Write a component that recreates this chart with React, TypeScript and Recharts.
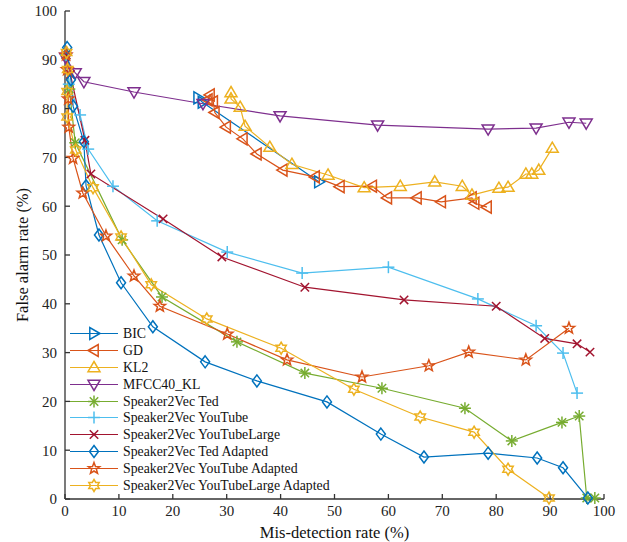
import { LineChart, Line, XAxis, YAxis } from "recharts"

type Pt = { x: number; y: number }

// values (mis-detection %, false alarm %)
const bic: Pt[] = [
  { x: 24.7, y: 82.2 },
  { x: 25.5, y: 81.3 },
  { x: 47.1, y: 65.0 },
]
const gd: Pt[] = [
  { x: 26.5, y: 81.8 },
  { x: 26.9, y: 82.8 },
  { x: 27.5, y: 81.4 },
  { x: 27.8, y: 79.2 },
  { x: 29.9, y: 76.2 },
  { x: 33.0, y: 73.8 },
  { x: 35.6, y: 70.7 },
  { x: 40.4, y: 67.4 },
  { x: 46.4, y: 66.0 },
  { x: 51.0, y: 64.0 },
  { x: 57.0, y: 64.1 },
  { x: 59.8, y: 61.7 },
  { x: 65.3, y: 61.7 },
  { x: 69.8, y: 60.9 },
  { x: 75.5, y: 61.7 },
  { x: 76.0, y: 60.6 },
  { x: 78.3, y: 59.8 },
]
const kl2: Pt[] = [
  { x: 30.8, y: 83.3 },
  { x: 30.8, y: 82.0 },
  { x: 32.5, y: 80.3 },
  { x: 33.4, y: 76.4 },
  { x: 38.0, y: 72.1 },
  { x: 42.1, y: 68.6 },
  { x: 48.8, y: 66.4 },
  { x: 55.5, y: 63.8 },
  { x: 62.2, y: 64.1 },
  { x: 68.6, y: 65.0 },
  { x: 73.7, y: 64.1 },
  { x: 75.5, y: 62.3 },
  { x: 80.5, y: 63.7 },
  { x: 82.2, y: 63.9 },
  { x: 85.5, y: 66.6 },
  { x: 86.6, y: 66.6 },
  { x: 87.9, y: 67.4 },
  { x: 90.4, y: 71.9 },
]
const mfcc40: Pt[] = [
  { x: 0.1, y: 90.5 },
  { x: 1.9, y: 87.3 },
  { x: 3.5, y: 85.5 },
  { x: 12.8, y: 83.4 },
  { x: 25.6, y: 81.0 },
  { x: 39.9, y: 78.5 },
  { x: 58.0, y: 76.6 },
  { x: 78.5, y: 75.8 },
  { x: 87.4, y: 76.0 },
  { x: 93.5, y: 77.2 },
  { x: 96.7, y: 77.0 },
]
const s2vTed: Pt[] = [
  { x: 0.2, y: 91.0 },
  { x: 0.8, y: 84.0 },
  { x: 1.9, y: 73.0 },
  { x: 10.6, y: 53.1 },
  { x: 18.0, y: 41.4 },
  { x: 31.9, y: 32.2 },
  { x: 44.5, y: 25.8 },
  { x: 58.8, y: 22.7 },
  { x: 74.2, y: 18.6 },
  { x: 82.9, y: 11.9 },
  { x: 92.2, y: 15.7 },
  { x: 95.4, y: 17.0 },
  { x: 96.8, y: 0.2 },
  { x: 98.3, y: 0.2 },
]
const s2vYouTube: Pt[] = [
  { x: 0.2, y: 91.0 },
  { x: 0.7, y: 85.0 },
  { x: 2.8, y: 78.7 },
  { x: 4.3, y: 71.7 },
  { x: 8.9, y: 64.1 },
  { x: 17.1, y: 57.0 },
  { x: 30.1, y: 50.6 },
  { x: 44.0, y: 46.3 },
  { x: 60.0, y: 47.5 },
  { x: 76.6, y: 41.0 },
  { x: 87.4, y: 35.5 },
  { x: 92.4, y: 29.9 },
  { x: 95.0, y: 21.7 },
]
const s2vYouTubeLarge: Pt[] = [
  { x: 0.2, y: 91.0 },
  { x: 1.0, y: 87.0 },
  { x: 3.7, y: 73.5 },
  { x: 4.8, y: 66.6 },
  { x: 18.2, y: 57.4 },
  { x: 29.1, y: 49.6 },
  { x: 44.5, y: 43.4 },
  { x: 62.9, y: 40.8 },
  { x: 80.0, y: 39.5 },
  { x: 89.0, y: 32.9 },
  { x: 95.0, y: 31.8 },
  { x: 97.4, y: 30.1 },
]
const tedAdapted: Pt[] = [
  { x: 0.4, y: 92.5 },
  { x: 1.1, y: 85.9 },
  { x: 1.5, y: 80.5 },
  { x: 3.5, y: 73.2 },
  { x: 3.9, y: 64.2 },
  { x: 6.3, y: 54.1 },
  { x: 10.4, y: 44.3 },
  { x: 16.3, y: 35.3 },
  { x: 26.0, y: 28.1 },
  { x: 35.6, y: 24.2 },
  { x: 48.6, y: 19.9 },
  { x: 58.6, y: 13.3 },
  { x: 66.6, y: 8.6 },
  { x: 78.5, y: 9.4 },
  { x: 87.6, y: 8.4 },
  { x: 92.4, y: 6.4 },
  { x: 97.0, y: 0.2 },
]
const youTubeAdapted: Pt[] = [
  { x: 0.2, y: 91.0 },
  { x: 0.4, y: 88.0 },
  { x: 0.6, y: 82.0 },
  { x: 0.7, y: 76.2 },
  { x: 1.5, y: 69.8 },
  { x: 3.3, y: 62.7 },
  { x: 7.6, y: 53.9 },
  { x: 12.8, y: 45.7 },
  { x: 17.6, y: 39.5 },
  { x: 30.1, y: 33.8 },
  { x: 41.2, y: 28.5 },
  { x: 55.1, y: 25.0 },
  { x: 67.5, y: 27.3 },
  { x: 74.9, y: 30.1 },
  { x: 85.5, y: 28.5 },
  { x: 93.5, y: 35.0 },
]
const youTubeLargeAdapted: Pt[] = [
  { x: 0.3, y: 91.5 },
  { x: 0.5, y: 88.0 },
  { x: 0.4, y: 83.5 },
  { x: 0.4, y: 78.3 },
  { x: 2.0, y: 71.5 },
  { x: 5.2, y: 63.8 },
  { x: 10.4, y: 53.7 },
  { x: 16.0, y: 43.9 },
  { x: 26.3, y: 36.9 },
  { x: 40.1, y: 30.9 },
  { x: 53.6, y: 22.5 },
  { x: 65.9, y: 16.8 },
  { x: 75.9, y: 13.7 },
  { x: 82.2, y: 6.1 },
  { x: 89.8, y: 0.2 },
]

const ticks = [0, 10, 20, 30, 40, 50, 60, 70, 80, 90, 100]

type Shape = "right" | "left" | "up" | "down" | "asterisk" | "plus" | "cross" | "diamond" | "pentagram" | "hexagram"

const series: { name: string; data: Pt[]; color: string; shape: Shape }[] = [
  { name: "BIC", data: bic, color: "#0072BD", shape: "right" },
  { name: "GD", data: gd, color: "#D95319", shape: "left" },
  { name: "KL2", data: kl2, color: "#EDB120", shape: "up" },
  { name: "MFCC40_KL", data: mfcc40, color: "#7E2F8E", shape: "down" },
  { name: "Speaker2Vec Ted", data: s2vTed, color: "#77AC30", shape: "asterisk" },
  { name: "Speaker2Vec YouTube", data: s2vYouTube, color: "#4DBEEE", shape: "plus" },
  { name: "Speaker2Vec YouTubeLarge", data: s2vYouTubeLarge, color: "#A2142F", shape: "cross" },
  { name: "Speaker2Vec Ted Adapted", data: tedAdapted, color: "#0072BD", shape: "diamond" },
  { name: "Speaker2Vec YouTube Adapted", data: youTubeAdapted, color: "#D95319", shape: "pentagram" },
  { name: "Speaker2Vec YouTubeLarge Adapted", data: youTubeLargeAdapted, color: "#EDB120", shape: "hexagram" },
]

const FONT = "Liberation Serif"
const AXIS = "#333"

function star(cx: number, cy: number, n: number, ro: number, ri: number) {
  const pts: string[] = []
  for (let i = 0; i < n * 2; i++) {
    const r = i % 2 === 0 ? ro : ri
    const a = -Math.PI / 2 + (i * Math.PI) / n
    pts.push(`${cx + r * Math.cos(a)},${cy + r * Math.sin(a)}`)
  }
  return pts.join(" ")
}

function Marker({ shape, cx, cy, color }: { shape: Shape; cx: number; cy: number; color: string }) {
  const r = 6
  const common = { fill: "none", stroke: color, strokeWidth: 1.5 }
  switch (shape) {
    case "right":
      return <polygon {...common} points={`${cx + r},${cy} ${cx - r * 0.7},${cy - r} ${cx - r * 0.7},${cy + r}`} />
    case "left":
      return <polygon {...common} points={`${cx - r},${cy} ${cx + r * 0.7},${cy - r} ${cx + r * 0.7},${cy + r}`} />
    case "up":
      return <polygon {...common} points={`${cx},${cy - r} ${cx + r},${cy + r * 0.7} ${cx - r},${cy + r * 0.7}`} />
    case "down":
      return <polygon {...common} points={`${cx},${cy + r} ${cx + r},${cy - r * 0.7} ${cx - r},${cy - r * 0.7}`} />
    case "diamond":
      return <polygon {...common} points={`${cx},${cy - r} ${cx + r * 0.75},${cy} ${cx},${cy + r} ${cx - r * 0.75},${cy}`} />
    case "pentagram":
      return <polygon {...common} points={star(cx, cy, 5, r, r * 0.42)} />
    case "hexagram":
      return <polygon {...common} points={star(cx, cy, 6, r, r * 0.58)} />
    case "plus":
      return (
        <g {...common}>
          <line x1={cx - r} y1={cy} x2={cx + r} y2={cy} />
          <line x1={cx} y1={cy - r} x2={cx} y2={cy + r} />
        </g>
      )
    case "cross": {
      const d = r * 0.7
      return (
        <g {...common}>
          <line x1={cx - d} y1={cy - d} x2={cx + d} y2={cy + d} />
          <line x1={cx - d} y1={cy + d} x2={cx + d} y2={cy - d} />
        </g>
      )
    }
    case "asterisk": {
      const d = r * 0.7
      return (
        <g {...common}>
          <line x1={cx - r} y1={cy} x2={cx + r} y2={cy} />
          <line x1={cx} y1={cy - r} x2={cx} y2={cy + r} />
          <line x1={cx - d} y1={cy - d} x2={cx + d} y2={cy + d} />
          <line x1={cx - d} y1={cy + d} x2={cx + d} y2={cy - d} />
        </g>
      )
    }
  }
  return null
}

function ChartLegend() {
  return (
    <div style={{ position: "absolute", left: 67, top: 325, fontFamily: FONT, fontSize: 13.8, color: "#111" }}>
      {series.map((s) => (
        <div key={s.name} style={{ display: "flex", alignItems: "center", height: 16.9 }}>
          <svg width={54} height={17} style={{ flex: "none" }}>
            <line x1={3} y1={8.5} x2={51} y2={8.5} stroke={s.color} strokeWidth={1.2} />
            <Marker shape={s.shape} cx={27} cy={8.5} color={s.color} />
          </svg>
          <span style={{ marginLeft: 2, lineHeight: "17px", whiteSpace: "nowrap" }}>{s.name}</span>
        </div>
      ))}
    </div>
  )
}

export default function App() {
  return (
    <div style={{ position: "absolute", left: 0, top: 0, width: 627, height: 542, background: "#fff" }}>
      <LineChart width={627} height={542} margin={{ top: 11, right: 23, bottom: 0, left: 0 }}>
        <XAxis
          xAxisId="bottom"
          dataKey="x"
          type="number"
          domain={[0, 100]}
          ticks={ticks}
          height={43}
          tickSize={-5}
          tickMargin={11}
          stroke={AXIS}
          strokeWidth={1.3}
          tick={{ fill: "#222", fontSize: 15, fontFamily: FONT }}
          label={{ value: "Mis-detection rate (%)", position: "insideBottom", offset: 4, fill: "#111", fontSize: 16.5, fontFamily: FONT }}
        />
        <XAxis
          xAxisId="top"
          orientation="top"
          type="number"
          domain={[0, 100]}
          ticks={ticks}
          height={0}
          tickSize={-5}
          stroke={AXIS}
          strokeWidth={1.3}
          tickFormatter={() => ""}
        />
        <YAxis
          yAxisId="left"
          type="number"
          domain={[0, 100]}
          ticks={ticks}
          width={65}
          tickSize={-5}
          tickMargin={13}
          stroke={AXIS}
          strokeWidth={1.3}
          tick={{ fill: "#222", fontSize: 15, fontFamily: FONT }}
          label={{ value: "False alarm rate (%)", angle: -90, position: "insideLeft", offset: 22, textAnchor: "middle", fill: "#111", fontSize: 16.5, fontFamily: FONT }}
        />
        <YAxis
          yAxisId="right"
          orientation="right"
          type="number"
          domain={[0, 100]}
          ticks={ticks}
          width={0}
          tickSize={-5}
          stroke={AXIS}
          strokeWidth={1.3}
          tickFormatter={() => ""}
        />
        {series.map((s) => (
          <Line
            key={s.name}
            xAxisId="bottom"
            yAxisId="left"
            data={s.data}
            dataKey="y"
            name={s.name}
            type="linear"
            stroke={s.color}
            strokeWidth={1.2}
            isAnimationActive={false}
            dot={(p: any) => <Marker key={`${s.name}-${p.index}`} shape={s.shape} cx={p.cx} cy={p.cy} color={s.color} />}
            activeDot={false}
          />
        ))}
      </LineChart>
      <ChartLegend />
    </div>
  )
}
